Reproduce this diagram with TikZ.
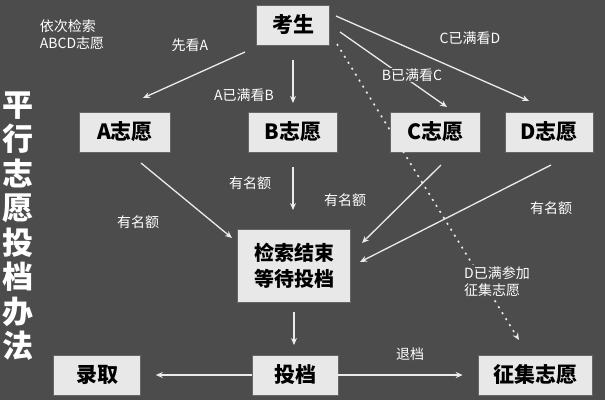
\documentclass[tikz,border=0pt]{standalone}
\usepackage{fontspec}
\setmainfont{Noto Sans CJK SC}
\usetikzlibrary{arrows.meta}
\definecolor{bg}{HTML}{4C4C4C}
\definecolor{bx}{HTML}{E8E8E8}
\tikzset{
 box/.style={fill=bx,draw=black!60,line width=0.6pt,minimum height=40pt,inner sep=3pt,font=\fontsize{21}{24}\selectfont\bfseries,text=black},
 lab/.style={text=white,font=\fontsize{14}{17}\selectfont,align=left},
 arr/.style={draw=white!92!black,line width=1.3pt,-{Stealth[length=7pt,width=6pt]}},
}
\begin{document}
\begin{tikzpicture}[x=1pt,y=-1pt]
\fill[bg] (0,0) rectangle (605,400);
\useasboundingbox (0,0) rectangle (605,400);
\node[box,minimum width=73pt] (k) at (293,25) {考生};
\node[box,minimum width=91pt] (a) at (125,132) {A志愿};
\node[box,minimum width=89pt] (b) at (293,132) {B志愿};
\node[box,minimum width=90pt] (c) at (435,132) {C志愿};
\node[box,minimum width=88pt] (d) at (549,132) {D志愿};
\node[box,minimum width=113pt,minimum height=73pt,align=center,font=\fontsize{20}{26}\selectfont\bfseries] (w) at (294,266) {检索结束\\等待投档};
\node[box,minimum width=87pt] (l) at (97,375) {录取};
\node[box,minimum width=86pt] (t) at (295,375) {投档};
\node[box,minimum width=114pt] (z) at (535,375) {征集志愿};
% title
\node[text=white,font=\fontsize{31}{34.5}\selectfont\bfseries,align=center,inner sep=0pt] (title) at (18,226) {平\\行\\志\\愿\\投\\档\\办\\法};
% labels
\node[lab,align=left] (l1) at (72,35) {依次检索\\ABCD志愿};
\node[lab] (l2) at (190,45) {先看A};
\node[lab] (l3) at (244,95) {A已满看B};
\node[lab] (l5) at (470,38) {C已满看D};
\node[lab] (q1) at (250,183) {有名额};
\node[lab] (q2) at (345,200) {有名额};
\node[lab] (q3) at (138,222) {有名额};
\node[lab] (q4) at (551,208) {有名额};
\node[lab] (tui) at (410,354) {退档};
% connector end points
\coordinate (ka) at (245,52); \coordinate (ae) at (143,98);
\coordinate (kb) at (293,60); \coordinate (be) at (293,103);
\coordinate (kc) at (340,32); \coordinate (ce) at (447,107);
\coordinate (kd) at (336,16); \coordinate (de) at (529,101);
\coordinate (kz) at (337,44); \coordinate (ze) at (519,340);
\coordinate (as) at (141,163); \coordinate (wa) at (232,238);
\coordinate (bs) at (293,167); \coordinate (wb) at (293,210);
\coordinate (cs) at (441,165); \coordinate (wc) at (362,243);
\coordinate (ds) at (551,165); \coordinate (wd) at (360,262);
\coordinate (ws) at (294,312); \coordinate (tn) at (294,345);
% arrows
\draw[arr] (ka) -- (ae);
\draw[arr] (kb) -- (be);
\draw[arr] (kc) -- (ce);
\draw[arr] (kd) -- (de);
\node[lab,fill=bg,inner sep=1pt] (l4) at (412,75) {B已满看C};
\draw[white!92!black,line width=1.6pt,dash pattern=on 2pt off 5pt,-{Stealth[length=7pt,width=6pt]}] (kz) -- (ze);
\node[lab,fill=bg,inner sep=2pt] (l6) at (497,282) {D已满参加\\征集志愿};
\draw[arr] (as) -- (wa);
\draw[arr] (bs) -- (wb);
\draw[arr] (cs) -- (wc);
\draw[arr] (ds) -- (wd);
\draw[arr] (ws) -- (tn);
\draw[arr] (t.west) -- ([xshift=15pt]l.east);
\draw[arr] (t.east) -- ([xshift=-15pt]z.west);
\end{tikzpicture}
\end{document}
